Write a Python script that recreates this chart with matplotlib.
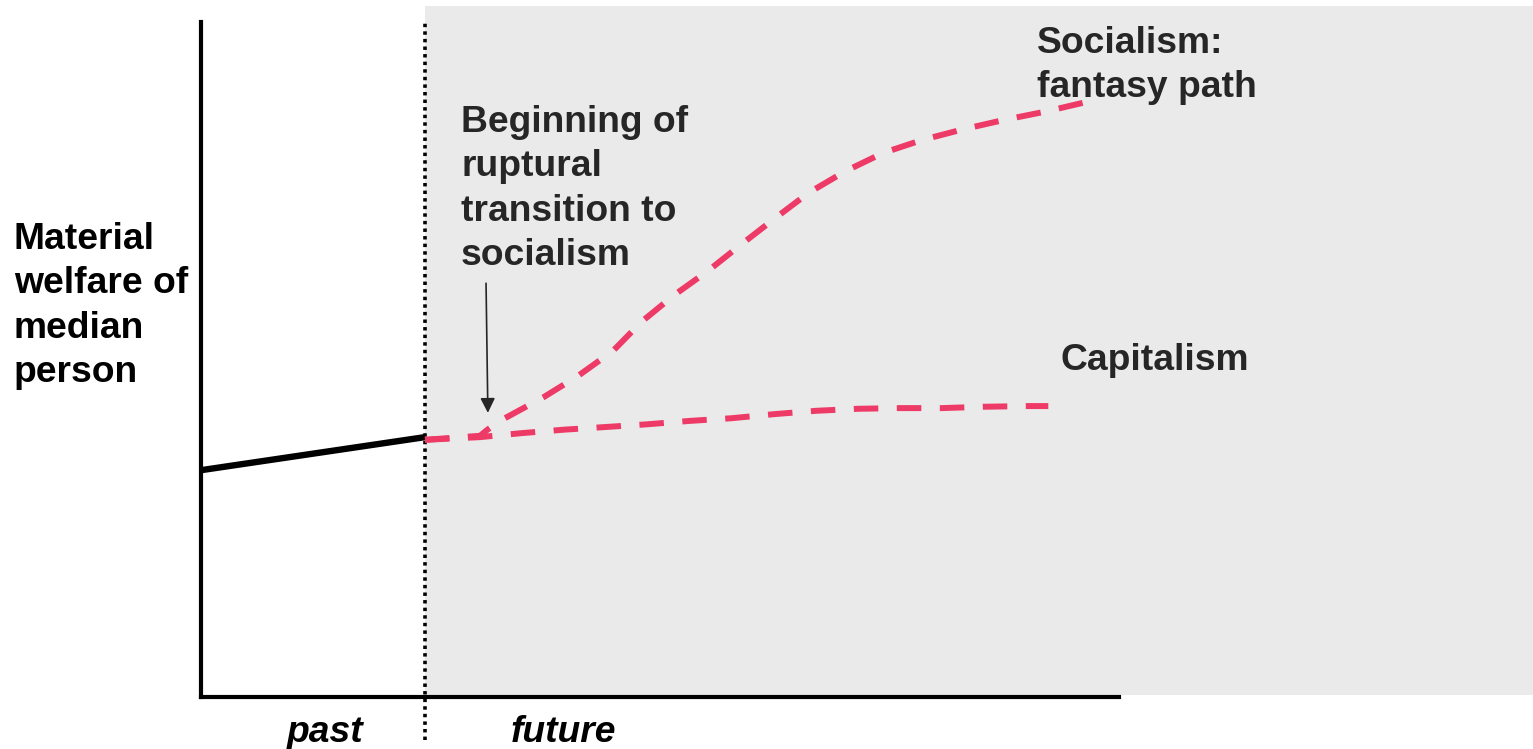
import matplotlib
matplotlib.use("Agg")
import matplotlib.pyplot as plt
from matplotlib.patches import Rectangle

# ---- data (time on x, material welfare on y; arbitrary units 0-100) ----
past_x = [0.0, 24.4]
past_y = [33.6, 38.5]

capitalism_x = [24.4, 30.4, 35.0, 39.5, 44.1, 48.6, 53.2, 57.8, 62.4, 67.0, 71.6, 76.1, 80.7, 85.3, 89.9, 92.3]
capitalism_y = [38.1, 38.5, 39.1, 39.6, 40.0, 40.4, 40.9, 41.3, 41.9, 42.4, 42.7, 42.8, 42.8, 43.0, 43.1, 43.1]

socialism_x = [24.4, 30.4, 31.2, 33.1, 37.3, 41.1, 44.9, 48.0, 51.6, 55.2, 58.9, 62.6, 66.2, 70.2, 74.3, 78.5, 83.0, 87.5, 91.9, 96.3]
socialism_y = [38.1, 38.7, 39.6, 41.3, 44.4, 47.6, 51.3, 55.6, 59.6, 63.1, 67.1, 71.0, 74.7, 77.9, 80.6, 82.5, 84.1, 85.5, 86.7, 88.1]

present_x = 24.4
transition_x = 31.2
transition_y = 39.6

ylabel_text = "Material\nwelfare of\nmedian\nperson"
period_labels = ["past", "future"]

W, H = 1533, 749
plt.rcParams['font.family'] = ['Liberation Sans', 'DejaVu Sans']

fig = plt.figure(figsize=(W / 100, H / 100), dpi=100)
fig.patch.set_facecolor('white')
ax = fig.add_axes([201 / W, (H - 697) / H, (1119 - 201) / W, (697 - 22) / H])
ax.set_facecolor('none')
ax.set_xlim(0, 100)
ax.set_ylim(0, 100)
ax.set_xticks([])
ax.set_yticks([])
for s in ['top', 'right']:
    ax.spines[s].set_visible(False)
for s in ['left', 'bottom']:
    ax.spines[s].set_linewidth(3.0)
    ax.spines[s].set_color('black')
    ax.spines[s].set_capstyle('projecting')
    ax.spines[s].set_zorder(5)

# grey "future" region
ax.add_patch(Rectangle((present_x, 0.3), 145.1 - present_x, 102.4 - 0.3,
                       facecolor='#EAEAEA', edgecolor='none', clip_on=False, zorder=0))

# dotted present divider
ax.plot([present_x, present_x], [-6.4, 100], color='black', lw=2.6,
        linestyle=(0, (0.95, 1.15)), clip_on=False, zorder=3)

red = '#EE3A66'
ax.plot(past_x, past_y, color='black', lw=4.6, solid_capstyle='butt', zorder=4, clip_on=False)
ax.plot(capitalism_x, capitalism_y, color=red, lw=4.3, linestyle=(0, (4.1, 3.1)),
        dash_capstyle='butt', zorder=4)
ax.plot(socialism_x, socialism_y, color=red, lw=4.3, linestyle=(0, (4.1, 3.1)),
        dash_capstyle='butt', zorder=4)

# arrow to the beginning of rupture
ax.annotate('', xy=(transition_x + 0.05, transition_y + 2.5), xytext=(transition_x - 0.15, 61.3),
            arrowprops=dict(arrowstyle='-|>', color='#262626', lw=1.2, mutation_scale=22,
                            shrinkA=0, shrinkB=0), zorder=6)

FS = 26.8
LS = 1.345
dark = '#262626'

def ftext(px, py, s, **kw):
    return fig.text(px / W, 1 - py / H, s, **kw)

ftext(14, 222, ylabel_text, fontsize=FS, fontweight='bold', color='black',
      ha='left', va='top', linespacing=LS)
ftext(461, 105, "Beginning of\nruptural\ntransition to\nsocialism", fontsize=FS,
      fontweight='bold', color=dark, ha='left', va='top', linespacing=LS)
ftext(1037, 26, "Socialism:\nfantasy path", fontsize=FS, fontweight='bold', color=dark,
      ha='left', va='top', linespacing=LS)
ftext(1061, 370, "Capitalism", fontsize=FS, fontweight='bold', color=dark,
      ha='left', va='baseline')
ftext(325, 742, period_labels[0], fontsize=FS, fontweight='bold', fontstyle='italic',
      color='black', ha='center', va='baseline')
ftext(563, 742, period_labels[1], fontsize=FS, fontweight='bold', fontstyle='italic',
      color='black', ha='center', va='baseline')

fig.savefig('out.png', dpi=100)
